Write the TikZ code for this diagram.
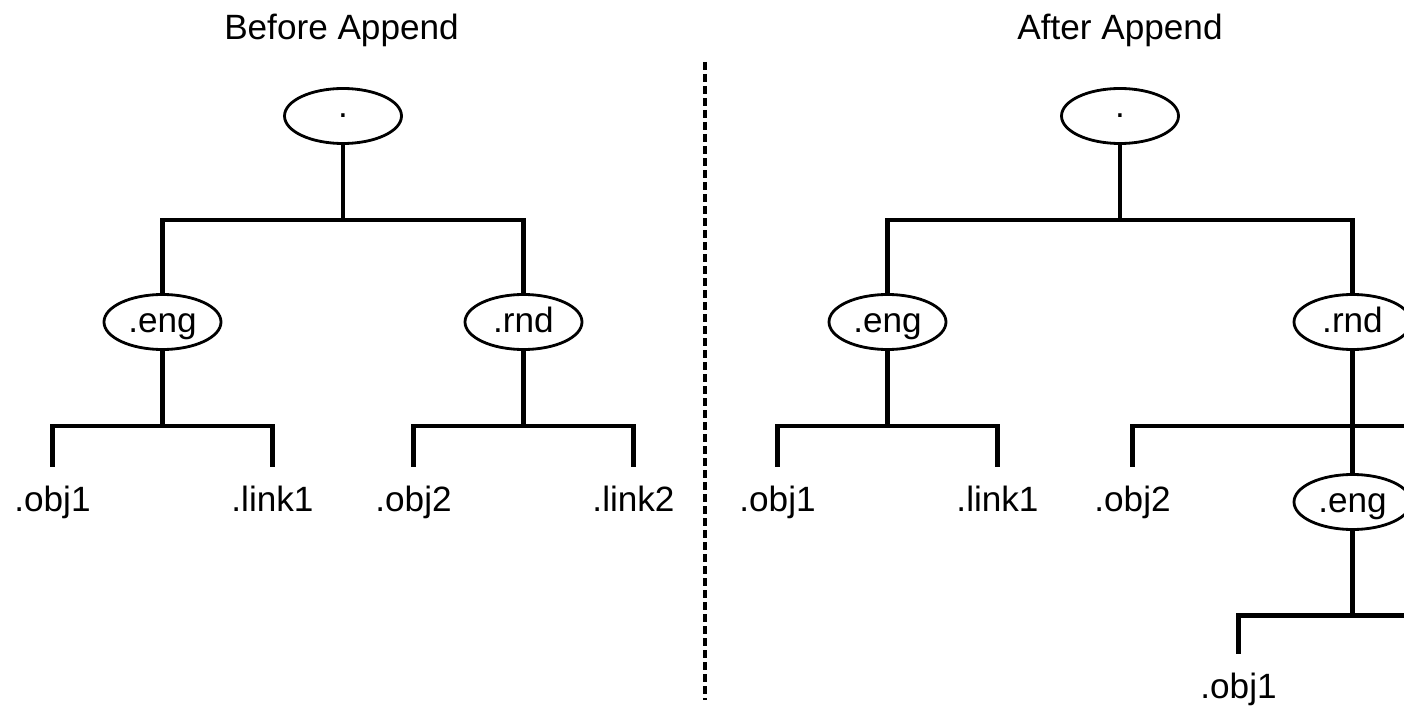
\documentclass[tikz,border=0pt]{standalone}
\usepackage{fontspec}
\setmainfont{Liberation Sans}
\usepackage{tikz}
\usetikzlibrary{trees,shapes,positioning}
\tikzset{ell/.style={draw,ellipse,line width=1.6pt,minimum width=2.34cm,minimum
height=1.1cm,inner sep=0pt},tag/.style={ell,text height=0.52cm,text
depth=0.1cm},leaf/.style={inner xsep=0pt,inner ysep=0.36cm,text
height=0.52cm,text depth=0.15cm},fork/.style={edge from parent
path={(\tikzparentnode.south) -- ++(0,-#1) -| (\tikzchildnode.north)}}}

\begin{document}
\begin{tikzpicture}[
			font=\fontsize{20}{24}\selectfont,
			edge from parent/.style={draw,line width=2.4pt},
			fork=1.5cm,
			level distance=4.12cm,
			level 2/.style={level distance=3.6cm,sibling distance=4.4cm},
			level 3/.style={level distance=3.74cm,sibling distance=4.56cm,fork=1.69cm},
			divider/.style={line width=2.2pt,dash pattern=on 0.16cm off 0.08cm}
		]
		\useasboundingbox (0,0) rectangle (28.08,-14.12);
		\node[anchor=base] (title1) at (6.83,-0.8) {Before Append};
		\node[anchor=base] (title2) at (22.4,-0.8) {After Append};
		\draw[divider] (14.1,-1.24) -- (14.1,-14);
		% before
		\node[ell] (root1) at (6.86,-2.32) {.} [sibling distance=7.22cm]
		child {
				node[tag] (eng1) {.eng}
				child {node[leaf] (obj1a) {.obj1}}
				child {node[leaf] (link1a) {.link1}}
			}
		child {
				node[tag] (rnd1) {.rnd}
				child {node[leaf] (obj2a) {.obj2}}
				child {node[leaf] (link2a) {.link2}}
			};
		% after
		\node[ell] (root2) at (22.4,-2.32) {.} [sibling distance=9.3cm]
		child {
				node[tag] (eng2) {.eng}
				child {node[leaf] (obj1b) {.obj1}}
				child {node[leaf] (link1b) {.link1}}
			}
		child {
				node[tag] (rnd2) {.rnd}
				child {node[leaf] (obj2b) {.obj2}}
				child {
						node[tag] (eng3) {.eng}
						child {node[leaf] (obj1c) {.obj1}}
						child[missing] {}
					}
				child[missing] {}
			};
		\coordinate (cutR) at (28.08,0);
		\draw[line width=2.4pt] (rnd2.south) ++(0,-1.5) coordinate (rndfork) -- (rndfork -| cutR);
		\draw[line width=2.4pt] (eng3.south) ++(0,-1.69) coordinate (engfork) -- (engfork -| cutR);
	\end{tikzpicture}
\end{document}
